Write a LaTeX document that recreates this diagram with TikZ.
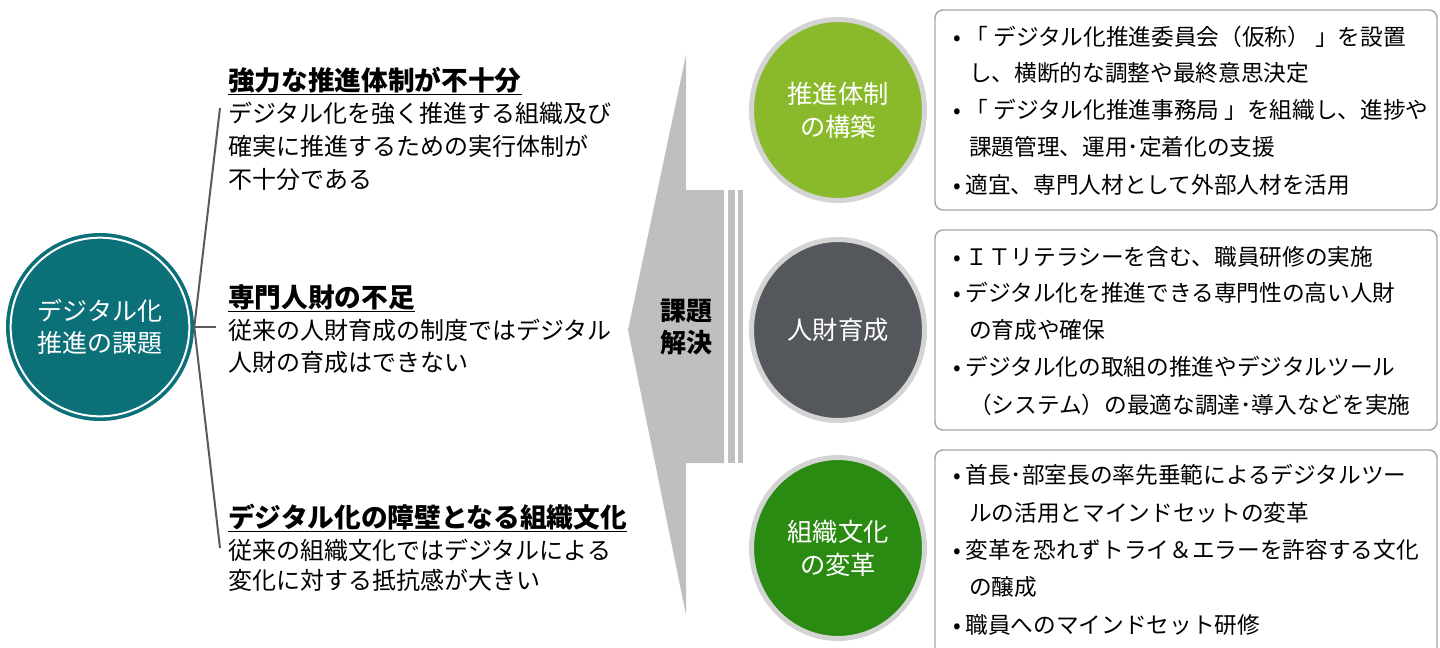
\documentclass[tikz,border=0pt]{standalone}
\usepackage{fontspec}
\setmainfont{Noto Sans CJK JP}
\usetikzlibrary{shapes.geometric}
\definecolor{tealc}{HTML}{0C7079}
\definecolor{gA}{HTML}{8ABA2C}
\definecolor{gB}{HTML}{54575B}
\definecolor{gC}{HTML}{2B8A12}
\definecolor{arrg}{HTML}{BFBFBF}
\definecolor{ringg}{HTML}{D4D4D4}
\definecolor{boxg}{HTML}{A6A6A6}
\definecolor{brk}{HTML}{5A5A5A}
\newcommand{\bul}{•\hspace{3.5pt}}
\begin{document}
\begin{tikzpicture}[x=0.75pt,y=-0.75pt,
  body/.style={anchor=west, inner sep=0pt, font=\fontsize{18}{18}\selectfont, text height=15.8pt, text depth=2.2pt},
  head/.style={anchor=west, inner sep=0pt, font=\fontsize{20}{20}\selectfont\bfseries, text height=17.6pt, text depth=2.4pt},
  bx/.style={anchor=west, inner sep=0pt, font=\fontsize{17}{17}\selectfont, text height=15pt, text depth=2pt},
  bigc/.style={ellipse, draw=ringg, line width=3.75pt, minimum width=129.75pt, minimum height=135.75pt, text=white, align=center, font=\fontsize{19}{24.75}\selectfont, inner sep=0pt},
  rbox/.style={draw=boxg, line width=1.1pt, rounded corners=6pt},
  brline/.style={draw=brk, line width=1.5pt}
]
\useasboundingbox (0,0) rectangle (1440,647);

% left circle
\node[circle, fill=tealc, minimum size=141pt, inner sep=0pt, text=white, align=center, font=\fontsize{18.75}{24}\selectfont] (lc) at (100,327) {デジタル化\\推進の課題};
\draw[white, line width=1.5pt] (lc.center) circle (67pt);

% bracket
\coordinate (bt) at (220,108);
\coordinate (bb) at (220,548);
\coordinate (bm) at (216,327);
\draw[brline] (bt) -- (lc.east) -- (bb);
\draw[brline] (lc.east) -- (bm);

% left texts
\node[head] (h1) at (228,80) {\underline{強力な推進体制が不十分}};
\node[body] (t1a) at (228,113) {デジタル化を強く推進する組織及び};
\node[body] (t1b) at (228,146) {確実に推進するための実行体制が};
\node[body] (t1c) at (228,179) {不十分である};

\node[head] (h2) at (228,297) {\underline{専門人財の不足}};
\node[body] (t2a) at (228,330) {従来の人財育成の制度ではデジタル};
\node[body] (t2b) at (228,362) {人財の育成はできない};

\node[head] (h3) at (228,517) {\underline{デジタル化の障壁となる組織文化}};
\node[body] (t3a) at (228,550) {従来の組織文化ではデジタルによる};
\node[body] (t3b) at (228,580) {変化に対する抵抗感が大きい};

% big arrow
\fill[arrg] (628,330) -- (686,55) -- (686,190) -- (724,190) -- (724,463) -- (686,463) -- (686,615) -- cycle;
\fill[arrg] (728,190) rectangle (735,463);
\fill[arrg] (738,190) rectangle (743,463);
\node[align=center, inner sep=0pt, font=\fontsize{19.5}{24}\selectfont\bfseries] (sol) at (686,327) {課題\\解決};

% right circles
\node[bigc, fill=gA] (c1) at (838,110) {推進体制\\の構築};
\node[bigc, fill=gB] (c2) at (838,330) {人財育成};
\node[bigc, fill=gC] (c3) at (838,548) {組織文化\\の変革};

% boxes
\begin{scope}
\clip (0,0) rectangle (1440,647);
\draw[rbox] (935,10) rectangle (1437,210);
\draw[rbox] (935,230) rectangle (1437,430);
\draw[rbox] (935,450) rectangle (1437,680);
\end{scope}

% box 1 text
\node[bx] (a1) at (953,37) {\bul「 デジタル化推進委員会（仮称） 」を設置};
\node[bx] (a2) at (969,73) {し、横断的な調整や最終意思決定};
\node[bx] (a3) at (953,110) {\bul「 デジタル化推進事務局 」を組織し、進捗や};
\node[bx] (a4) at (969,147) {課題管理、運用･定着化の支援};
\node[bx] (a5) at (953,185) {\bul 適宜、専門人材として外部人材を活用};

% box 2 text
\node[bx] (b1) at (953,257) {\bul ＩＴリテラシーを含む、職員研修の実施};
\node[bx] (b2) at (953,293) {\bul デジタル化を推進できる専門性の高い人財};
\node[bx] (b3) at (969,330) {の育成や確保};
\node[bx] (b4) at (953,367) {\bul デジタル化の取組の推進やデジタルツール};
\node[bx] (b5) at (969,405) {（システム）の最適な調達･導入などを実施};

% box 3 text
\node[bx] (d1) at (953,475) {\bul 首長･部室長の率先垂範によるデジタルツー};
\node[bx] (d2) at (969,513) {ルの活用とマインドセットの変革};
\node[bx] (d3) at (953,550) {\bul 変革を恐れずトライ＆エラーを許容する文化};
\node[bx] (d4) at (969,587) {の醸成};
\node[bx] (d5) at (953,625) {\bul 職員へのマインドセット研修};
\end{tikzpicture}
\end{document}
